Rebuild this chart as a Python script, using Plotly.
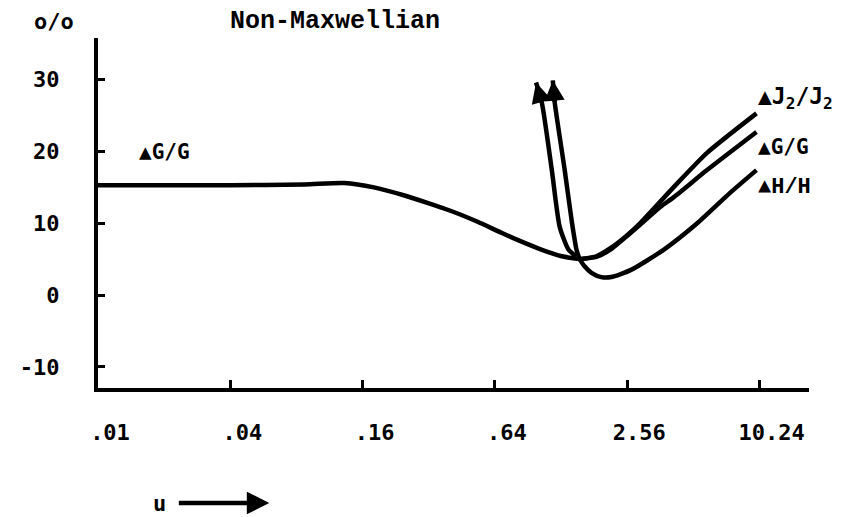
import math
import plotly.graph_objects as go

# ---- data ----
u_common = [0.01, 0.04, 0.087, 0.132, 0.180, 0.246, 0.318, 0.413, 0.534, 0.693, 0.852, 1.048, 1.289, 1.554]
v_common = [15.3, 15.3, 15.4, 15.6, 15.0, 13.9, 12.8, 11.6, 10.2, 8.6, 7.4, 6.3, 5.4, 5.0]

u_j2 = [1.554, 1.853, 2.164, 2.529, 2.953, 4.158, 5.91, 9.92]
v_j2 = [5.0, 5.4, 6.6, 8.2, 10.1, 15.0, 19.8, 25.3]

u_g = [1.554, 1.853, 2.164, 2.529, 2.953, 3.633, 4.158, 5.91, 9.92]
v_g = [5.0, 5.3, 6.4, 8.1, 9.9, 12.3, 13.6, 17.4, 22.7]

u_h = [1.554, 1.637, 1.76, 1.952, 2.164, 2.664, 3.748, 5.33, 7.50, 9.92]
v_h = [5.0, 4.0, 3.1, 2.5, 2.5, 3.5, 6.3, 10.0, 14.2, 17.4]

u_arrow_a = [1.50, 1.385, 1.262, 1.162, 1.048, 0.985]
v_arrow_a = [5.4, 6.3, 9.5, 17.4, 26.7, 29.6]

u_arrow_b = [1.554, 1.505, 1.43, 1.33, 1.199, 1.174]
v_arrow_b = [5.0, 6.3, 10.4, 17.4, 26.7, 29.9]

x_ticks = [0.01, 0.04, 0.16, 0.64, 2.56, 10.24]
x_tick_labels = [".01", ".04", ".16", ".64", "2.56", "10.24"]
y_ticks = [30, 20, 10, 0, -10]
y_tick_labels = ["30", "20", "10", "0", "-10"]

x_range = [0.01, 17.2]
y_range = [-12.95, 35.8]

LINE = dict(color="black", width=4.5, shape="spline", smoothing=0.6)
MONO = "DejaVu Sans Mono"
TYPE = "Liberation Mono"

fig = go.Figure()
for uu, vv in [(u_common, v_common), (u_j2, v_j2), (u_g, v_g), (u_h, v_h),
               (u_arrow_a, v_arrow_a), (u_arrow_b, v_arrow_b)]:
    fig.add_trace(go.Scatter(x=uu, y=vv, mode="lines", line=LINE,
                             hoverinfo="skip", showlegend=False))

# page has an 8px body margin; figure coordinates = page coordinates - 8
OFF = 8
PL, PT, PW, PH = 91, 38, 718, 350      # plot area in page pixels
W, H = 864 - OFF, 517 - OFF
L, T = PL - OFF, PT - OFF
R, B = W - L - PW, H - T - PH


def px(x):
    return (x - PL) / PW


def py(y):
    return (PT + PH - y) / PH


tri = "▲"
ann = [
    dict(text="o/o", x=px(47), y=py(22), font=dict(family=MONO, size=22, weight="bold")),
    dict(text="<b>Non-Maxwellian</b>", x=px(330), y=py(22),
         font=dict(family=TYPE, size=25)),
    dict(text=tri + "G/G", x=px(130), y=py(152), xanchor="left",
         font=dict(family=MONO, size=21, weight="bold")),
    dict(text=tri + "J<sub>2</sub>/J<sub>2</sub>", x=px(755), y=py(98), xanchor="left",
         font=dict(family=MONO, size=23, weight="bold")),
    dict(text=tri + "G/G", x=px(755), y=py(147), xanchor="left",
         font=dict(family=MONO, size=21, weight="bold")),
    dict(text=tri + "<b>H/H</b>", x=px(755), y=py(187), xanchor="left",
         font=dict(family=TYPE, size=22)),
    dict(text="u", x=px(153), y=py(503), font=dict(family=MONO, size=22, weight="bold")),
]
annotations = []
for a in ann:
    d = dict(xref="paper", yref="paper", showarrow=False,
             xanchor=a.get("xanchor", "center"), yanchor="middle")
    d.update(a)
    d["font"] = dict(color="black", **a["font"])
    annotations.append(d)

# arrowheads on the two rising branches (placed from the data's last segment)
for uu, vv in [(u_arrow_a, v_arrow_a), (u_arrow_b, v_arrow_b)]:
    annotations.append(dict(xref="x", yref="y", axref="x", ayref="y",
                            x=math.log10(uu[-1]), y=vv[-1],
                            ax=math.log10(uu[-2]), ay=vv[-2],
                            text="", showarrow=True, arrowhead=2,
                            arrowsize=0.9, arrowwidth=4.5, arrowcolor="black"))

annotations.append(dict(xref="paper", yref="paper", x=px(264), y=py(503),
                        ax=-92, ay=0, text="", showarrow=True,
                        arrowhead=2, arrowsize=1, arrowwidth=4.5,
                        arrowcolor="black"))

fig.update_layout(
    width=W, height=H,
    margin=dict(l=L, r=R, t=T, b=B),
    paper_bgcolor="white", plot_bgcolor="white",
    annotations=annotations,
    xaxis=dict(type="log", range=[math.log10(x_range[0]), math.log10(x_range[1])],
               tickvals=x_ticks, ticktext=x_tick_labels,
               showline=True, linecolor="black", linewidth=4,
               ticks="inside", ticklen=8, tickwidth=3, tickcolor="black",
               showgrid=False, zeroline=False,
               ticklabelstandoff=22, ticklabelshift=12,
               tickfont=dict(family=MONO, size=22, color="black", weight="bold")),
    yaxis=dict(range=y_range, tickvals=y_ticks, ticktext=y_tick_labels,
               showline=True, linecolor="black", linewidth=4,
               ticks="inside", ticklen=7, tickwidth=3, tickcolor="black",
               showgrid=False, zeroline=False,
               ticklabelstandoff=30,
               tickfont=dict(family=MONO, size=22, color="black", weight="bold")),
)

fig.write_html("out.html")
